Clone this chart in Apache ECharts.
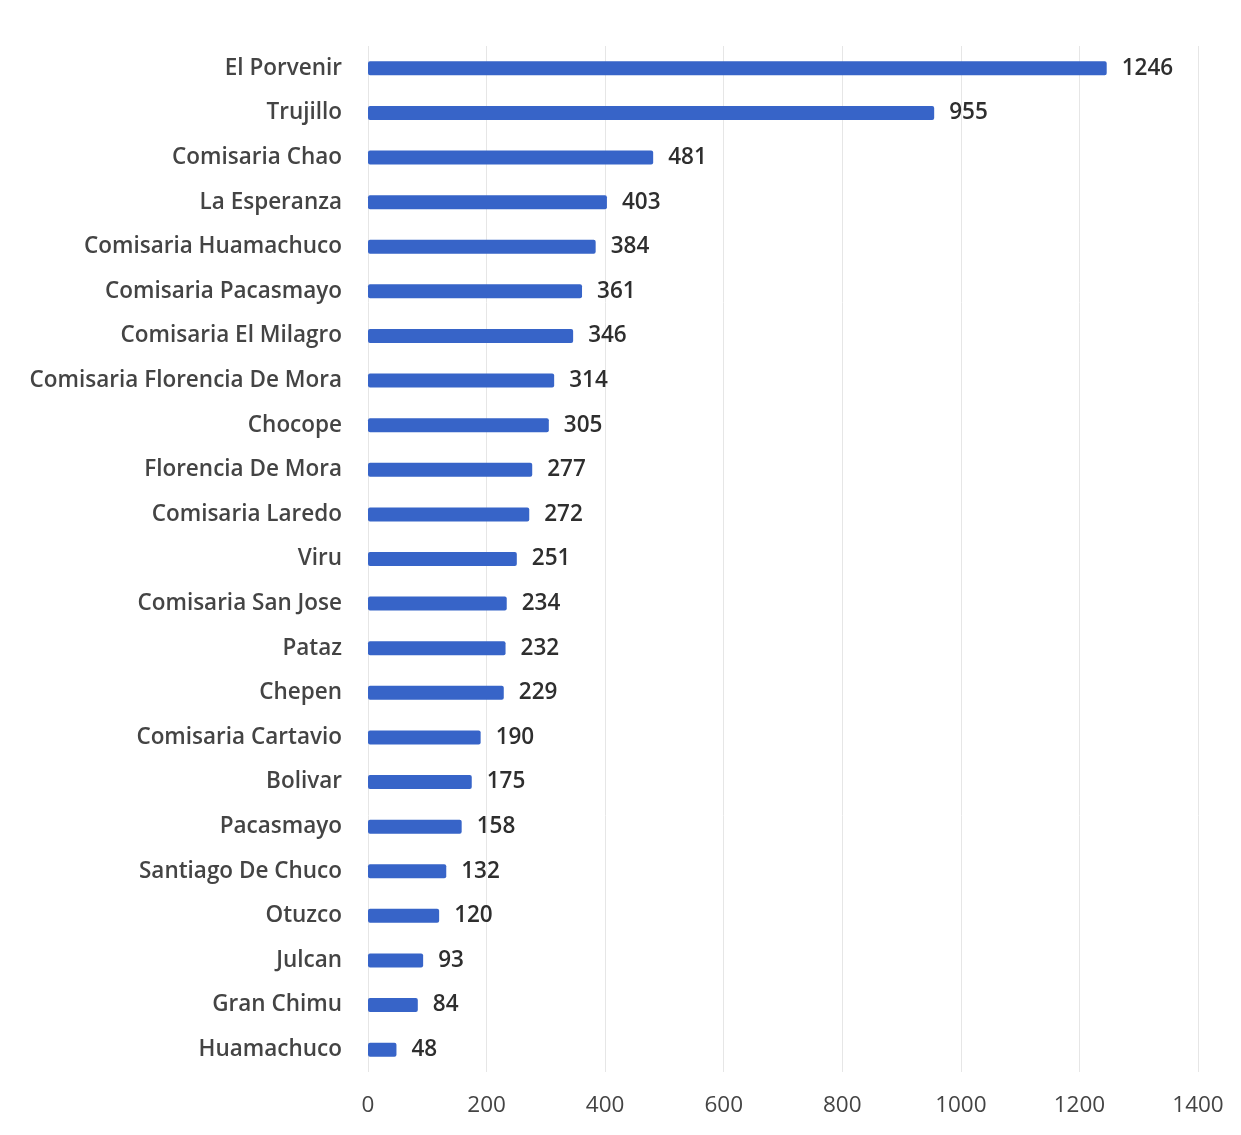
<!DOCTYPE html>
<html><head><meta charset="utf-8">
<script src="https://cdn.jsdelivr.net/npm/echarts@6/dist/echarts.min.js"></script>
<style>html,body{margin:0;padding:0;background:#fff}#c{width:1241px;height:1135px}</style>
</head><body><div id="c"></div>
<script>
const categories = ["El Porvenir","Trujillo","Comisaria Chao","La Esperanza","Comisaria Huamachuco","Comisaria Pacasmayo","Comisaria El Milagro","Comisaria Florencia De Mora","Chocope","Florencia De Mora","Comisaria Laredo","Viru","Comisaria San Jose","Pataz","Chepen","Comisaria Cartavio","Bolivar","Pacasmayo","Santiago De Chuco","Otuzco","Julcan","Gran Chimu","Huamachuco"];
const values = [1246,955,481,403,384,361,346,314,305,277,272,251,234,232,229,190,175,158,132,120,93,84,48];
const xTicks = [0,200,400,600,800,1000,1200,1400];

const chart = echarts.init(document.getElementById('c'));
chart.setOption({
  backgroundColor:'#fff',
  animation:false,
  grid:{left:368,right:43,top:46,bottom:63,containLabel:false},
  xAxis:{type:'value',min:xTicks[0],max:xTicks[xTicks.length-1],interval:200,
    axisLine:{show:false},axisTick:{show:false},
    axisLabel:{margin:22,fontSize:22.5,color:'#444',fontFamily:'Open Sans',formatter:v=>String(v)},
    splitLine:{show:true,lineStyle:{color:'#e6e6e6',width:1}}},
  yAxis:{type:'category',data:categories,inverse:true,
    axisLine:{show:false},axisTick:{show:false},
    axisLabel:{margin:26,fontSize:22.5,fontWeight:600,color:'#444',fontFamily:'Open Sans'}},
  series:[{type:'bar',data:values,barWidth:14,
    itemStyle:{color:'#3764c8',borderRadius:2},
    label:{show:true,position:'right',distance:15,fontSize:22.5,fontWeight:600,color:'#2e2e2e',fontFamily:'Open Sans'}}]
});
</script></body></html>
